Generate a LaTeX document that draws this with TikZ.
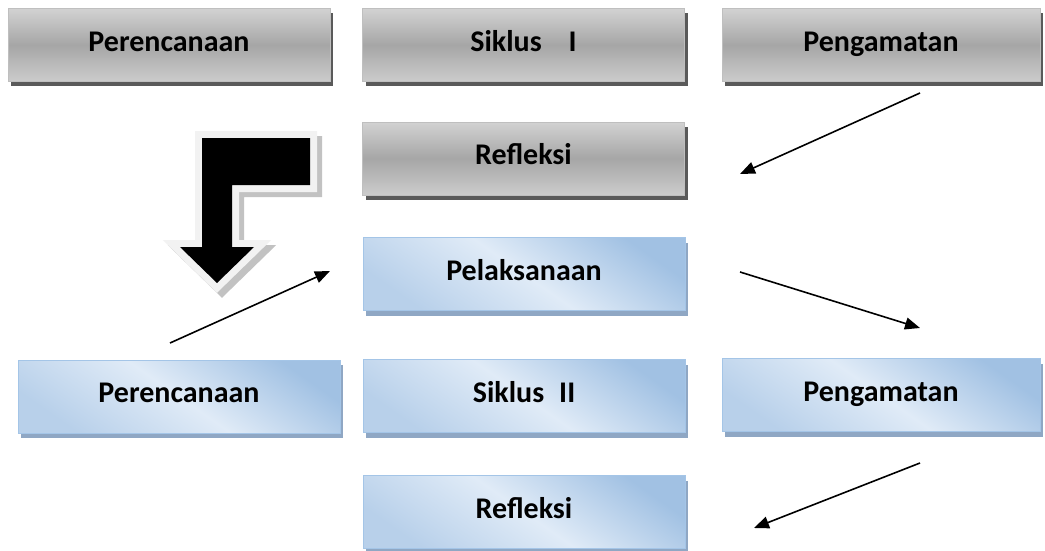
\documentclass[tikz,border=0pt]{standalone}
\usepackage{fontspec}
\setmainfont{Carlito}
\usetikzlibrary{arrows.meta,shadows}

\definecolor{gtop}{HTML}{D2D2D2}
\definecolor{gmid}{HTML}{A6A6A6}
\definecolor{gbot}{HTML}{CCCCCC}
\definecolor{gline}{HTML}{BFBFBF}
\definecolor{gshadow}{HTML}{5A5A5A}
\definecolor{bdark}{HTML}{A1C1E3}
\definecolor{blight}{HTML}{E0EBF7}
\definecolor{bmid}{HTML}{B8D0EA}
\definecolor{bline}{HTML}{A4C5E7}
\definecolor{bshadow}{HTML}{8FA7C4}
\definecolor{rim}{HTML}{F2F2F2}
\definecolor{rimshadow}{HTML}{C2C2C2}

\tikzset{
  boxbase/.style={rectangle, inner sep=0pt, line width=0.8pt,
    minimum width=322pt, minimum height=73pt,
    text height=20pt, text depth=7.5pt,
    font=\fontsize{30}{35}\selectfont\bfseries, text=black},
  graybox/.style={boxbase, draw=gline,
    top color=gtop, bottom color=gbot, middle color=gmid,
    drop shadow={shadow xshift=3pt, shadow yshift=-5pt, fill=gshadow, opacity=1}},
  bluebox/.style={boxbase, draw=bline,
    top color=bdark, bottom color=bmid, middle color=blight, shading angle=-35,
    drop shadow={shadow xshift=3pt, shadow yshift=-5pt, fill=bshadow, opacity=1}},
  flow/.style={line width=1.6pt, -{Triangle[length=15pt,width=12pt]}},
}

\begin{document}
\begin{tikzpicture}[x=1pt,y=-1pt]
  \useasboundingbox[fill=white] (0,0) rectangle (1045,551);

  % first cycle (grey boxes)
  \node[graybox] (plan1) at (169,45) {Perencanaan};
  \node[graybox] (cyc1) at (523.5,45) {Siklus\hspace{27pt}I};
  \node[graybox, minimum width=318pt] (obs1) at (881,45) {Pengamatan};
  \node[graybox] (refl1) at (523.5,158.5) {Refleksi};

  % second cycle (blue boxes)
  \node[bluebox] (act2) at (524,274) {Pelaksanaan};
  \node[bluebox] (plan2) at (179,396.5) {Perencanaan};
  \node[bluebox] (cyc2) at (524,396) {Siklus\hspace{15pt}II};
  \node[bluebox, minimum width=318pt] (obs2) at (881,395) {Pengamatan};
  \node[bluebox] (refl2) at (524,512) {Refleksi};

  % bent block arrow leading from cycle I to cycle II
  \def\bentarrow{(202,138) -- (310,138) -- (310,185) -- (232,185) -- (232,247)
    -- (254,247) -- (217,283) -- (180,247) -- (202,247) -- cycle}
  \begin{scope}[shift={(5,5)}]
    \filldraw[rimshadow, line width=14pt, line join=miter] \bentarrow;
  \end{scope}
  \draw[rim, line width=14pt, line join=miter] \bentarrow;
  \fill[black] \bentarrow;

  % free ends of the flow arrows
  \coordinate (a1s) at (920,93);
  \coordinate (a1e) at (740,174);
  \coordinate (a2s) at (170,343);
  \coordinate (a2e) at (330,271);
  \coordinate (a3s) at (740,272);
  \coordinate (a3e) at (920,328);
  \coordinate (a4s) at (920,463);
  \coordinate (a4e) at (754,528);

  \draw[flow] (a1s) -- (a1e);
  \draw[flow] (a2s) -- (a2e);
  \draw[flow] (a3s) -- (a3e);
  \draw[flow] (a4s) -- (a4e);
\end{tikzpicture}
\end{document}
